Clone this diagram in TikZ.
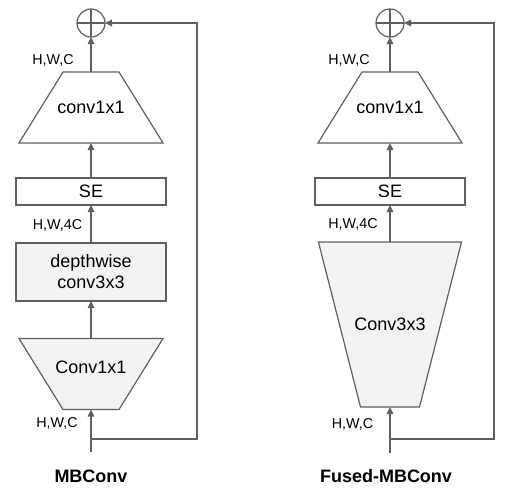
\documentclass[tikz,border=0pt]{standalone}
\usepackage{fontspec}
\setmainfont{Liberation Sans}
\RequirePackage{tikz}
\usetikzlibrary{shapes.geometric, arrows.meta}
\definecolor{linegray}{HTML}{5F5F5F}
\definecolor{boxgray}{HTML}{F3F3F3}
\newcommand\blockfont{\fontsize{18}{21}\selectfont}
\newcommand\dimfont{\fontsize{14.3}{16}\selectfont}
\newcommand\captionfont{\fontsize{18}{21}\selectfont\bfseries}

\begin{document}
\begin{tikzpicture}[x=1pt, y=-1pt,
    every node/.style={inner sep=0pt, outer sep=0pt},
    every label/.style={font=\blockfont},
    block/.style={rectangle, draw=linegray, line width=1.2pt, minimum width=150pt, font=\blockfont, align=center},
    upconv/.style={trapezium, draw=linegray, line width=1.2pt, trapezium left angle=58.2, trapezium right angle=58.2, inner xsep=28pt, inner ysep=35.5pt},
    downconv/.style={upconv, shape border rotate=180, fill=boxgray},
    addnode/.style={circle, draw=linegray, line width=1.2pt, minimum size=28pt,
        path picture={\draw[linegray, line width=1.2pt] (path picture bounding box.north) -- (path picture bounding box.south) (path picture bounding box.west) -- (path picture bounding box.east);}},
    dimlabel/.style={font=\dimfont},
    captext/.style={font=\captionfont},
    arr/.style={draw=linegray, line width=1.2pt, -{Triangle[length=7pt, width=6.5pt]}}]

\useasboundingbox (0,0) rectangle (506,499);

% MBConv
\node[addnode] (add1) at (91,23) {};
\node[upconv, label=center:conv1x1] (proj1) at (91,107.5) {};
\node[block, minimum height=27pt] (se1) at (91,191.5) {SE};
\node[block, minimum height=58pt, fill=boxgray] (dw1) at (91,272) {depthwise\\conv3x3};
\node[downconv, label={[yshift=7pt]center:Conv1x1}] (exp1) at (91,374) {};
\coordinate (in1) at (91,452);
\coordinate (br1) at (91,439);
\coordinate (cr1) at (197,439);

\node[dimlabel] (dimtop1) at (53,60) {H,W,C};
\node[dimlabel] (dimmid1) at (57.5,225) {H,W,4C};
\node[dimlabel] (dimin1) at (57,423) {H,W,C};
\node[captext] (cap1) at (91,476) {MBConv};

\draw[arr] (in1) -- (exp1);
\draw[arr] (exp1) -- (dw1);
\draw[arr] (dw1) -- (se1);
\draw[arr] (se1) -- (proj1);
\draw[arr] (proj1) -- (add1);
\draw[arr] (br1) -- (cr1) |- (add1);

% Fused-MBConv
\node[addnode] (add2) at (390,23) {};
\node[upconv, label=center:conv1x1] (proj2) at (390,107.5) {};
\node[block, minimum height=27pt] (se2) at (390,191.5) {SE};
\node[downconv, inner xsep=29.5pt, inner ysep=82.5pt, trapezium left angle=75.7, trapezium right angle=75.7, label=center:Conv3x3] (fused2) at (390,324.5) {};
\coordinate (in2) at (390,453);
\coordinate (br2) at (390,439);
\coordinate (cr2) at (494,439);

\node[dimlabel] (dimtop2) at (349,60) {H,W,C};
\node[dimlabel] (dimmid2) at (353,224) {H,W,4C};
\node[dimlabel] (dimin2) at (352.5,424) {H,W,C};
\node[captext] (cap2) at (386,476) {Fused-MBConv};

\draw[arr] (in2) -- (fused2);
\draw[arr] (fused2) -- (se2);
\draw[arr] (se2) -- (proj2);
\draw[arr] (proj2) -- (add2);
\draw[arr] (br2) -- (cr2) |- (add2);
\end{tikzpicture}
\end{document}
